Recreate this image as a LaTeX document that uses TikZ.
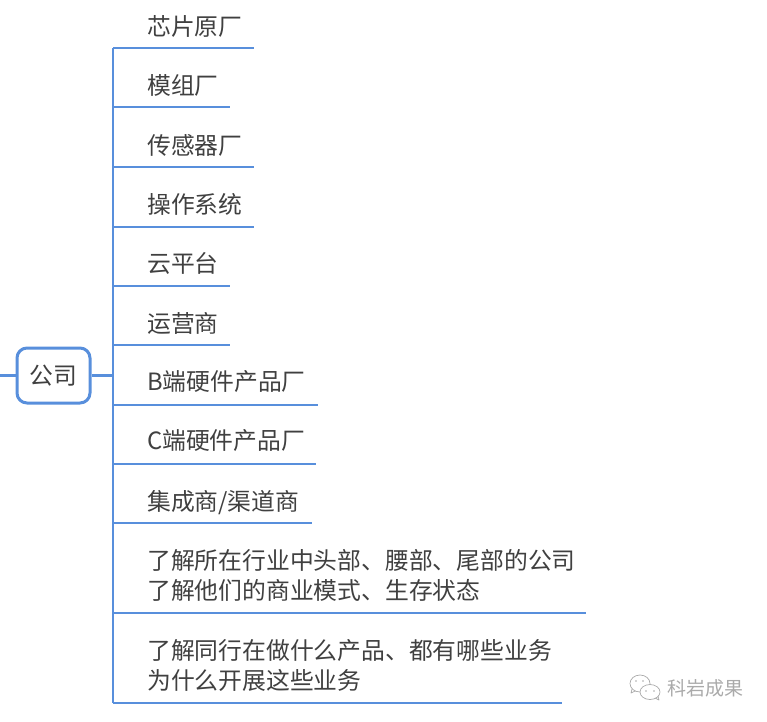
\documentclass[tikz,border=0pt]{standalone}
\usepackage{fontspec}
\setmainfont{Noto Sans CJK SC}
\usetikzlibrary{positioning,calc}
\definecolor{ink}{RGB}{64,64,64}
\definecolor{link}{RGB}{88,143,220}
\definecolor{wm}{RGB}{170,170,170}
\tikzset{
  every picture/.style={x=1pt, y=-1pt, line cap=butt, line join=round},
  every node/.style={font=\fontsize{23.8}{30}\selectfont, text=ink},
  % Linien
  trunk/.style={link, line width=2.5pt},
  stem/.style={link, line width=3pt},
  under/.style={link, line width=1.7pt},
  % Knoten
  root/.style={draw=link, line width=3pt, rounded corners=10pt, minimum width=73pt,
    minimum height=55pt, inner sep=0pt, fill=white},
  leaf/.style={anchor=west, align=left, inner sep=0pt},
  brandmark/.style={font=\fontsize{19}{22}\selectfont, text=wm, inner sep=0pt, anchor=west},
  bubble/.style={wm, line width=0.7pt, fill=white},
}
\begin{document}
\begin{tikzpicture}
  \useasboundingbox (0,0) rectangle (767,721);
  \coordinate (stub) at (0,375.5);
  \coordinate (hub) at (113,375.5);
  \node[root] (firm) at (53.5,375.5) {公司};
  \draw[stem] (stub) -- (firm);
  \draw[stem] (firm) -- (hub);
  % Zweige: Name / Text / Textmitte / Unterstrich / rechtes Ende
  \foreach \n/\txt/\ty/\uy/\ux in {
    a/{芯片原厂}/26/48/254,
    b/{模组厂}/85/107/230,
    c/{传感器厂}/145/167/254,
    d/{操作系统}/204/227/254,
    e/{云平台}/263/286/230,
    f/{运营商}/323/345/230,
    g/{B端硬件产品厂}/382/405/318,
    h/{C端硬件产品厂}/441/464/316,
    i/{集成商/渠道商}/502.5/523/312,
    j/{了解所在行业中头部、腰部、尾部的公司\\了解他们的商业模式、生存状态}/575/613/586,
    k/{了解同行在做什么产品、都有哪些业务\\为什么开展这些业务}/665.5/703/562} {
    \node[leaf] (\n) at (147,\ty) {\txt};
    \coordinate (\n end) at (\ux,\uy);
    \draw[trunk] (hub) -- (hub |- \n end);
    \draw[under] (hub |- \n end) -- (\n end);
  }
  % Wasserzeichen
  \node[brandmark] (brand) at (667,688) {科岩成果};
  \begin{scope}[shift={(630,675)}]
    \draw[bubble] (2,14) -- (1,18) -- (6,15.5);
    \draw[bubble] (10,8.5) ellipse (10 and 8.5);
    \draw[bubble] (28,21) -- (29,25) -- (25,23);
    \draw[bubble] (20,17) ellipse (10 and 7.5);
    \fill[wm] (6,6) circle (0.9) (13,6) circle (0.9) (16,16) circle (0.8) (24,16) circle (0.8);
  \end{scope}
\end{tikzpicture}
\end{document}
